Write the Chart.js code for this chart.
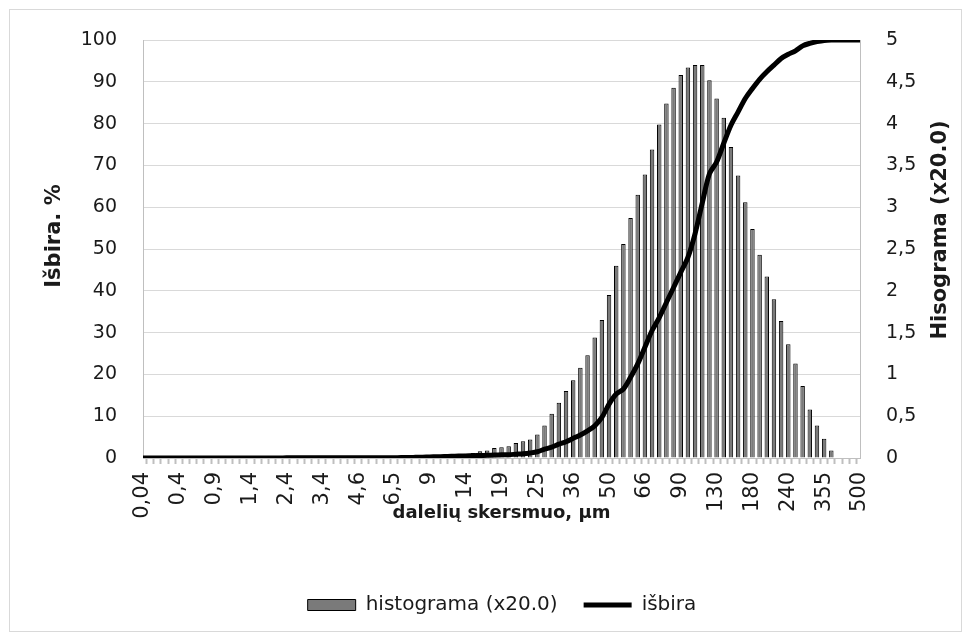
<!DOCTYPE html>
<html>
<head>
<meta charset="utf-8">
<script src="https://cdn.jsdelivr.net/npm/chart.js@4"></script>
<style>
  html, body { margin: 0; padding: 0; background: #fff; }
  #wrap { width: 972px; height: 642px; }
</style>
</head>
<body>
<div id="wrap"><canvas id="psd-chart" width="972" height="642"></canvas></div>
<script>
// size classes, um
const sizes = [
  "0,04", "0,1", "0,15", "0,2", "0,3", "0,4", "0,5", "0,6", "0,7", "0,8",
  "0,9", "1", "1,1", "1,2", "1,3", "1,4", "1,6", "1,8", "2", "2,2",
  "2,4", "2,6", "2,8", "3", "3,2", "3,4", "3,6", "3,8", "4", "4,3",
  "4,6", "5", "5,4", "5,8", "6,2", "6,5", "7", "7,5", "8", "8,5",
  "9", "10", "11", "12", "13", "14", "15", "16", "17", "18",
  "19", "20", "21", "22", "23", "25", "27", "29", "31", "33",
  "36", "39", "42", "45", "48", "50", "53", "56", "59", "62",
  "66", "70", "75", "80", "85", "90", "97", "105", "113", "121",
  "130", "140", "150", "160", "170", "180", "190", "200", "212", "226",
  "240", "262", "285", "308", "330", "355", "380", "410", "440", "470",
  "500"
];

// histogram (x20.0), right axis
const histogram = [
  0, 0, 0, 0, 0, 0, 0, 0, 0, 0,
  0, 0, 0, 0, 0, 0, 0, 0, 0, 0,
  0, 0, 0, 0, 0, 0, 0, 0, 0, 0,
  0, 0, 0, 0, 0, 0, 0, 0, 0, 0,
  0.01, 0.01, 0.02, 0.03, 0.04, 0.05, 0.06, 0.08, 0.09, 0.12,
  0.13, 0.14, 0.18, 0.2, 0.22, 0.28, 0.39, 0.53, 0.66, 0.8,
  0.93, 1.08, 1.23, 1.44, 1.65, 1.95, 2.3, 2.56, 2.87, 3.15,
  3.39, 3.69, 3.99, 4.24, 4.43, 4.58, 4.67, 4.7, 4.7, 4.52,
  4.3, 4.07, 3.72, 3.38, 3.06, 2.74, 2.43, 2.17, 1.9, 1.64,
  1.36, 1.13, 0.86, 0.58, 0.39, 0.23, 0.09, 0, 0, 0,
  0
];

// cumulative undersize, %
const isbira = [
  0, 0, 0, 0, 0, 0, 0, 0, 0, 0,
  0, 0, 0, 0, 0, 0, 0, 0, 0, 0,
  0.05, 0.05, 0.05, 0.05, 0.05, 0.05, 0.05, 0.05, 0.05, 0.05,
  0.05, 0.05, 0.05, 0.05, 0.05, 0.05, 0.1, 0.1, 0.15, 0.2,
  0.25, 0.3, 0.35, 0.4, 0.45, 0.5, 0.55, 0.6, 0.65, 0.7,
  0.75, 0.8, 0.9, 1.0, 1.2, 1.5, 2.1, 2.6, 3.3, 3.9,
  4.7, 5.5, 6.5, 7.7, 9.7, 12.9, 15.3, 16.5, 19.3, 22.5,
  26.5, 30.5, 33.6, 37.2, 40.8, 44.4, 48.0, 53.7, 61.0, 68.0,
  70.8, 75.3, 79.6, 82.8, 86.0, 88.4, 90.6, 92.4, 94.0, 95.6,
  96.6, 97.4, 98.6, 99.2, 99.6, 99.9, 100, 100, 100, 100,
  100
];

const leftTicks = [0, 10, 20, 30, 40, 50, 60, 70, 80, 90, 100];
const rightTicks = [0, 0.5, 1, 1.5, 2, 2.5, 3, 3.5, 4, 4.5, 5];

const FONT = "'DejaVu Sans', sans-serif";
const TXT = "#1a1a1a";

// both y titles read bottom-to-top, frame round the chart,
// legend nudged to sit under the plot
function vTitle(c, text, x, y) {
  c.save();
  c.translate(x, y);
  c.rotate(-Math.PI / 2);
  c.font = "bold 21px " + FONT;
  c.fillStyle = TXT;
  c.textAlign = "center";
  c.textBaseline = "middle";
  c.fillText(text, 0, 0);
  c.restore();
}
const extras = {
  id: "extras",
  afterLayout(chart) {
    chart.legend.left += 16;
    chart.legend.right += 16;
  },
  afterDraw(chart) {
    const c = chart.ctx;
    c.save();
    c.strokeStyle = "#d9d9d9";
    c.lineWidth = 1;
    c.strokeRect(9.5, 9.5, 952, 622);
    c.restore();
    vTitle(c, "Išbira. %", 55, 236);
    vTitle(c, "Hisograma (x20.0)", 941, 230);
  }
};

var ctx = document.getElementById("psd-chart").getContext("2d");
new Chart(ctx, {
  data: {
    labels: sizes,
    datasets: [
      {
        type: "line",
        label: "išbira",
        data: isbira,
        yAxisID: "yL",
        borderColor: "#000",
        backgroundColor: "#000",
        borderWidth: 5,
        pointRadius: 0,
        tension: 0.3,
        order: 0
      },
      {
        type: "bar",
        label: "histograma (x20.0)",
        data: histogram,
        yAxisID: "yR",
        backgroundColor: "#7a7a7a",
        borderColor: "#000",
        borderWidth: 1,
        barPercentage: 0.62,
        categoryPercentage: 1,
        order: 1
      }
    ]
  },
  options: {
    responsive: false,
    animation: false,
    layout: { padding: { top: 40, left: 0, right: 0, bottom: 17 } },
    plugins: {
      tooltip: { enabled: false },
      legend: {
        position: "bottom",
        reverse: true,
        labels: {
          usePointStyle: true,
          pointStyleWidth: 48,
          boxHeight: 11,
          padding: 26,
          color: TXT,
          font: { family: FONT, size: 20 },
          generateLabels(chart) {
            const items = Chart.defaults.plugins.legend.labels.generateLabels(chart);
            items.forEach(function (it) {
              it.pointStyle = it.datasetIndex === 0 ? "line" : "rect";
            });
            return items;
          }
        }
      }
    },
    scales: {
      x: {
        type: "category",
        offset: false,
        afterFit(scale) { scale.height = 111; },
        grid: {
          drawOnChartArea: false,
          drawTicks: true,
          tickLength: 6,
          tickWidth: 2,
          tickColor: "#bfbfbf"
        },
        border: { color: "#bfbfbf", width: 1 },
        ticks: {
          autoSkip: false,
          maxRotation: 90,
          minRotation: 90,
          padding: 8,
          color: TXT,
          font: { family: FONT, size: 21 },
          callback(v, i) { return i % 5 === 0 ? sizes[i] : ""; }
        },
        title: {
          display: true,
          text: "dalelių skersmuo, µm",
          color: TXT,
          font: { family: FONT, size: 18, weight: "bold" },
          padding: { top: 0, bottom: 45 }
        }
      },
      yL: {
        position: "left",
        min: 0,
        max: 100,
        afterFit(scale) { scale.width = 143; },
        afterBuildTicks(scale) { scale.ticks = leftTicks.map(v => ({ value: v })); },
        grid: { color: "#d9d9d9", drawTicks: false },
        border: { color: "#bfbfbf" },
        ticks: {
          padding: 26,
          color: TXT,
          font: { family: FONT, size: 19 }
        }
      },
      yR: {
        position: "right",
        min: 0,
        max: 5,
        afterFit(scale) { scale.width = 112; },
        afterBuildTicks(scale) { scale.ticks = rightTicks.map(v => ({ value: v })); },
        grid: { drawOnChartArea: false, drawTicks: false },
        border: { color: "#bfbfbf" },
        ticks: {
          padding: 26,
          color: TXT,
          font: { family: FONT, size: 19 },
          callback(v) { return String(v).replace(".", ","); }
        }
      }
    }
  },
  plugins: [extras]
});
</script>
</body>
</html>
